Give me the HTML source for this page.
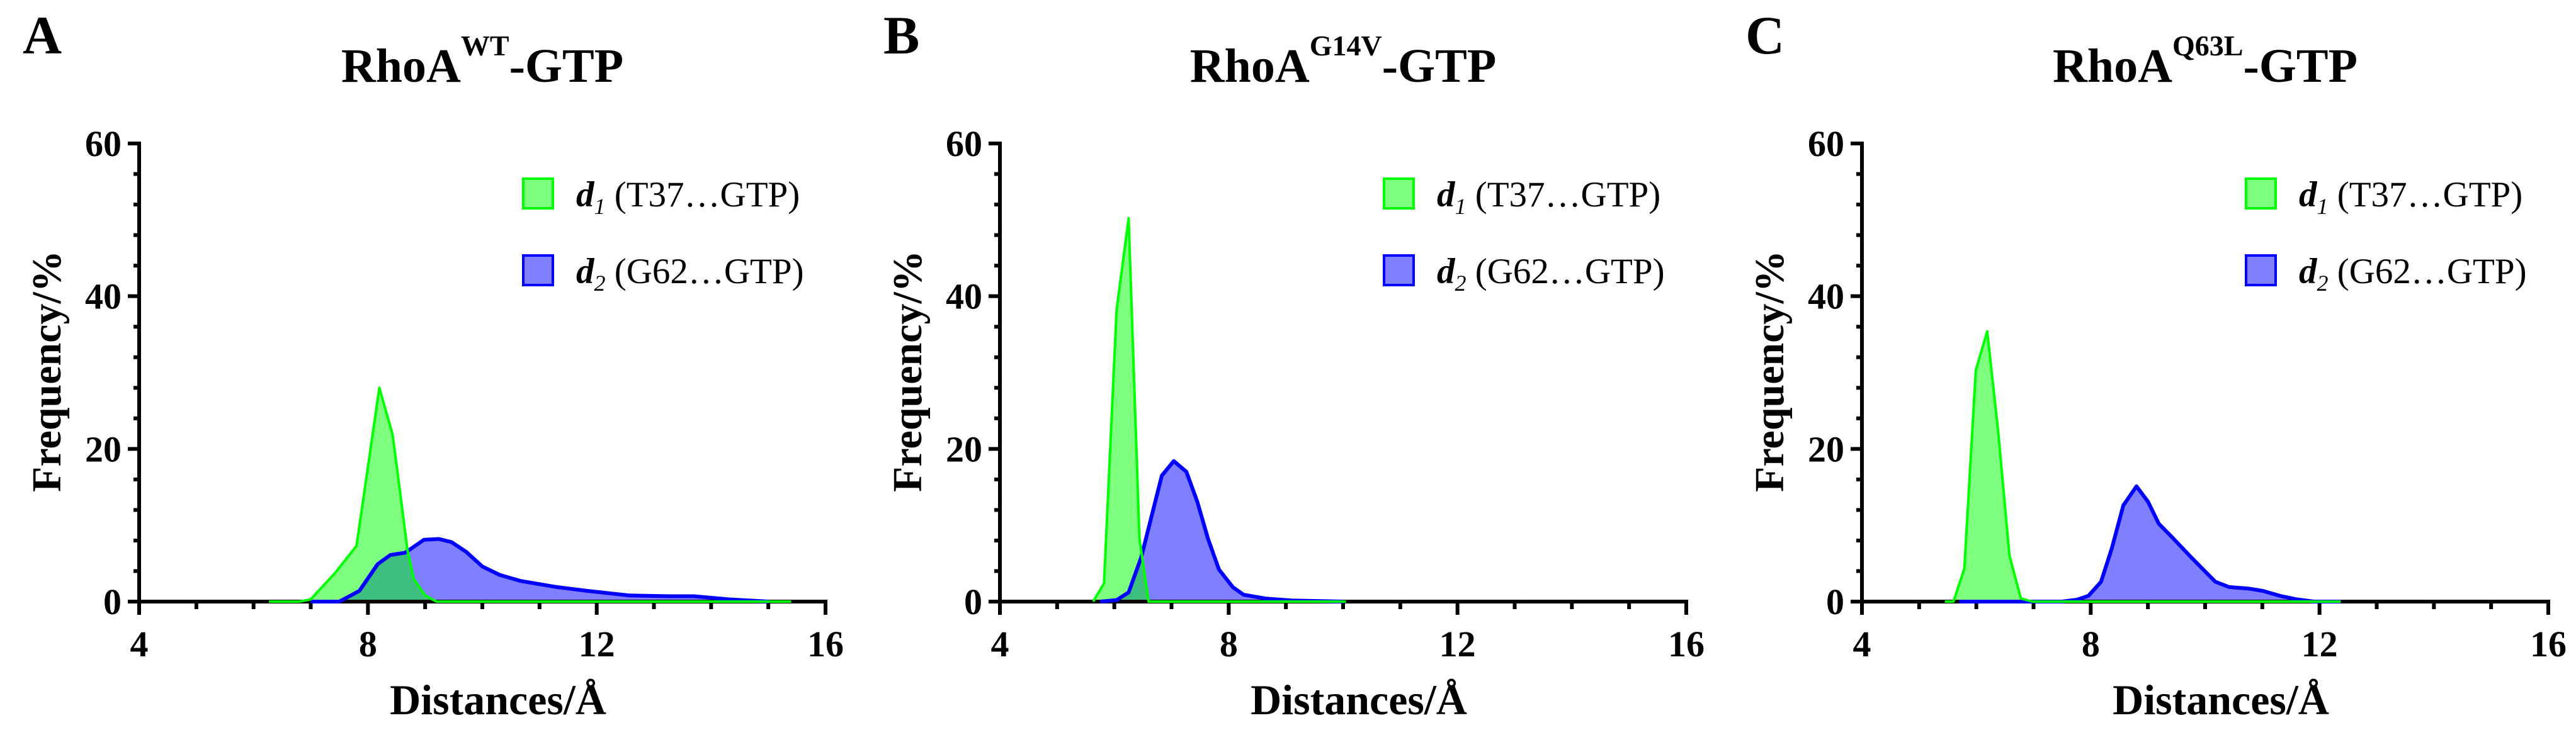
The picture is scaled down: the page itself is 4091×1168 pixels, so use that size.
<!DOCTYPE html>
<html><head><meta charset="utf-8"><style>
html,body{margin:0;padding:0;background:#fff;}
svg{display:block;font-family:"Liberation Serif","Times New Roman",serif;}
</style></head><body>
<svg id="fig" width="4091" height="1168" viewBox="0 0 4091 1168" xmlns="http://www.w3.org/2000/svg"></svg>
<script>
// ---- data (distance in Å, frequency in %) ----
const panelLetters = ["A", "B", "C"];
const panelSuper = ["WT", "G14V", "Q63L"];
const xTicks = [4, 8, 12, 16];
const yTicks = [0, 20, 40, 60];

const aD1x = [6.27, 6.8, 7.0, 7.42, 7.8, 8.2, 8.43, 8.54, 8.69, 8.8, 9.0, 9.2, 15.4];
const aD1y = [0, 0, 0.3, 3.7, 7.3, 28.0, 21.9, 15.6, 6.8, 3.0, 0.8, 0, 0];
const aD2x = [7.0, 7.5, 7.85, 8.17, 8.39, 8.65, 8.98, 9.24, 9.46, 9.72, 10.0, 10.3, 10.67, 11.3, 11.84, 12.58, 13.3, 13.7, 14.3, 15.0];
const aD2y = [0, 0, 1.4, 4.9, 6.1, 6.4, 8.1, 8.2, 7.8, 6.5, 4.6, 3.5, 2.7, 1.9, 1.4, 0.8, 0.7, 0.7, 0.3, 0];

const bD1x = [5.63, 5.82, 6.04, 6.25, 6.44, 6.6, 10.05];
const bD1y = [0, 2.4, 38.2, 50.2, 8.2, 0, 0];
const bD2x = [5.75, 6.04, 6.25, 6.47, 6.83, 7.04, 7.26, 7.45, 7.64, 7.83, 8.07, 8.26, 8.64, 9.1, 10.0];
const bD2y = [0, 0.2, 1.2, 5.8, 16.5, 18.4, 17.0, 13.1, 8.2, 4.2, 1.9, 0.9, 0.4, 0.15, 0];

const cD1x = [5.45, 5.6, 5.79, 5.99, 6.19, 6.38, 6.58, 6.78, 6.98, 12.37];
const cD1y = [0, 0, 4.3, 30.3, 35.4, 22.4, 6.0, 0.4, 0, 0];
const cD2x = [5.7, 7.5, 7.76, 7.96, 8.18, 8.37, 8.57, 8.8, 9.0, 9.19, 9.44, 9.73, 9.98, 10.18, 10.42, 10.77, 11.01, 11.31, 11.6, 11.9, 12.37];
const cD2y = [0, 0, 0.25, 0.75, 2.6, 7.0, 12.6, 15.1, 13.1, 10.2, 8.3, 6.0, 4.1, 2.6, 1.9, 1.7, 1.4, 0.75, 0.3, 0, 0];

const panels = [
  {d1x: aD1x, d1y: aD1y, d2x: aD2x, d2y: aD2y},
  {d1x: bD1x, d1y: bD1y, d2x: bD2x, d2y: bD2y},
  {d1x: cD1x, d1y: cD1y, d2x: cD2x, d2y: cD2y}
];

// ---- layout ----
const NS = "http://www.w3.org/2000/svg";
const svg = document.getElementById("fig");
const axisLeft = [221, 1588, 2957];
const plotW = 1090, yBottom = 956, yTop = 228;
function mk(tag, attrs, parent) {
  const e = document.createElementNS(NS, tag);
  for (const k in attrs) e.setAttribute(k, attrs[k]);
  (parent || svg).appendChild(e);
  return e;
}

panels.forEach((p, i) => {
  const L = axisLeft[i];
  const sx = d => L + (d - 4) / 12 * plotW;
  const sy = v => yBottom - v / 60 * (yBottom - yTop);
  const g = mk("g", {});
  
  

  // panel letter
  const pl = mk("text", {x: L - 185, y: 85, "font-size": 86, "font-weight": "bold"}, g);
  
  
  pl.textContent = panelLetters[i];

  // title
  const t = mk("text", {x: L + plotW / 2, y: 130, "font-size": 76, "font-weight": "bold", "text-anchor": "middle"}, g);
  
  
  const t1 = mk("tspan", {}, t); t1.textContent = "RhoA";
  const t2 = mk("tspan", {dy: -42, "font-size": 46}, t); t2.textContent = panelSuper[i];
  const t3 = mk("tspan", {dy: 42}, t); t3.textContent = "-GTP";

  // series
  function area(xs, ys, fill, stroke, sw, name) {
    let pts = xs.map((d, k) => sx(d).toFixed(1) + "," + sy(ys[k]).toFixed(1));
    const poly = mk("polygon", {points: sx(xs[0]) + "," + sy(0) + " " + pts.join(" ") + " " + sx(xs[xs.length - 1]) + "," + sy(0), fill: fill, stroke: "none"}, g);
    
    
    return pts;
  }
  const p2 = area(p.d2x, p.d2y, "rgba(0,0,255,0.5)", "#0000ff", 6, 'd2');
  const p1 = area(p.d1x, p.d1y, "rgba(0,255,0,0.5)", "#00ff00", 4, 'd1');

  // axes
  const ax = mk("line", {x1: L - 3, y1: yBottom, x2: L + plotW + 3, y2: yBottom, stroke: "#000", "stroke-width": 6}, g);
  
  
  const ay = mk("line", {x1: L, y1: yTop - 3, x2: L, y2: yBottom + 21, stroke: "#000", "stroke-width": 6}, g);
  
  
  for (let d = 4; d <= 16; d++) {
    const major = (d % 4 === 0);
    const tk = mk("line", {x1: sx(d), y1: yBottom, x2: sx(d), y2: yBottom + (major ? 21 : 12), stroke: "#000", "stroke-width": 6}, g);
    
    
  }
  for (let v = 0; v <= 60; v += 4) {
    const major = (v % 20 === 0);
    const tk = mk("line", {x1: L - (major ? 18 : 9), y1: sy(v), x2: L, y2: sy(v), stroke: "#000", "stroke-width": 6}, g);
    
    
  }
  xTicks.forEach(d => {
    const tl = mk("text", {x: sx(d), y: 1043, "font-size": 58, "font-weight": "bold", "text-anchor": "middle"}, g);
    
    
    tl.textContent = d;
  });
  yTicks.forEach(v => {
    const tl = mk("text", {x: L - 28, y: sy(v) + 20, "font-size": 58, "font-weight": "bold", "text-anchor": "end"}, g);
    
    
    tl.textContent = v;
  });

  // lines on top
  const l2 = mk("polyline", {points: p2.join(" "), fill: "none", stroke: "#0000ff", "stroke-width": 6, "stroke-linejoin": "round"}, g);
  
  
  const l1 = mk("polyline", {points: p1.join(" "), fill: "none", stroke: "#00ff00", "stroke-width": 4, "stroke-linejoin": "round"}, g);
  
  

  // axis titles
  const xt = mk("text", {x: L + plotW / 2 + 25, y: 1135, "font-size": 68, "font-weight": "bold", "text-anchor": "middle"}, g);
  
  
  xt.textContent = "Distances/Å";
  const yt = mk("text", {x: 0, y: 0, "font-size": 66, "font-weight": "bold", "text-anchor": "middle", transform: "translate(" + (L - 125) + ",590) rotate(-90)"}, g);
  
  
  yt.textContent = "Frequency/%";

  // legend
  const leg = [["1", "(T37…GTP)", "rgba(0,255,0,0.5)", "#00ff00", 282], ["2", "(G62…GTP)", "rgba(0,0,255,0.5)", "#0000ff", 404]];
  leg.forEach(e => {
    const lg = mk("g", {}, g);
    
    
    mk("rect", {x: L + 610, y: e[4] + 2, width: 47, height: 47, fill: e[2], stroke: e[3], "stroke-width": 4}, lg);
    const tx = mk("text", {x: L + 694, y: e[4] + 46, "font-size": 57}, lg);
    const a = mk("tspan", {"font-weight": "bold", "font-style": "italic"}, tx); a.textContent = "d";
    const b = mk("tspan", {"font-style": "italic", "font-size": 36, dy: 12}, tx); b.textContent = e[0];
    const c = mk("tspan", {dy: -12}, tx); c.textContent = " " + e[1];
  });
});
</script>
</body></html>
